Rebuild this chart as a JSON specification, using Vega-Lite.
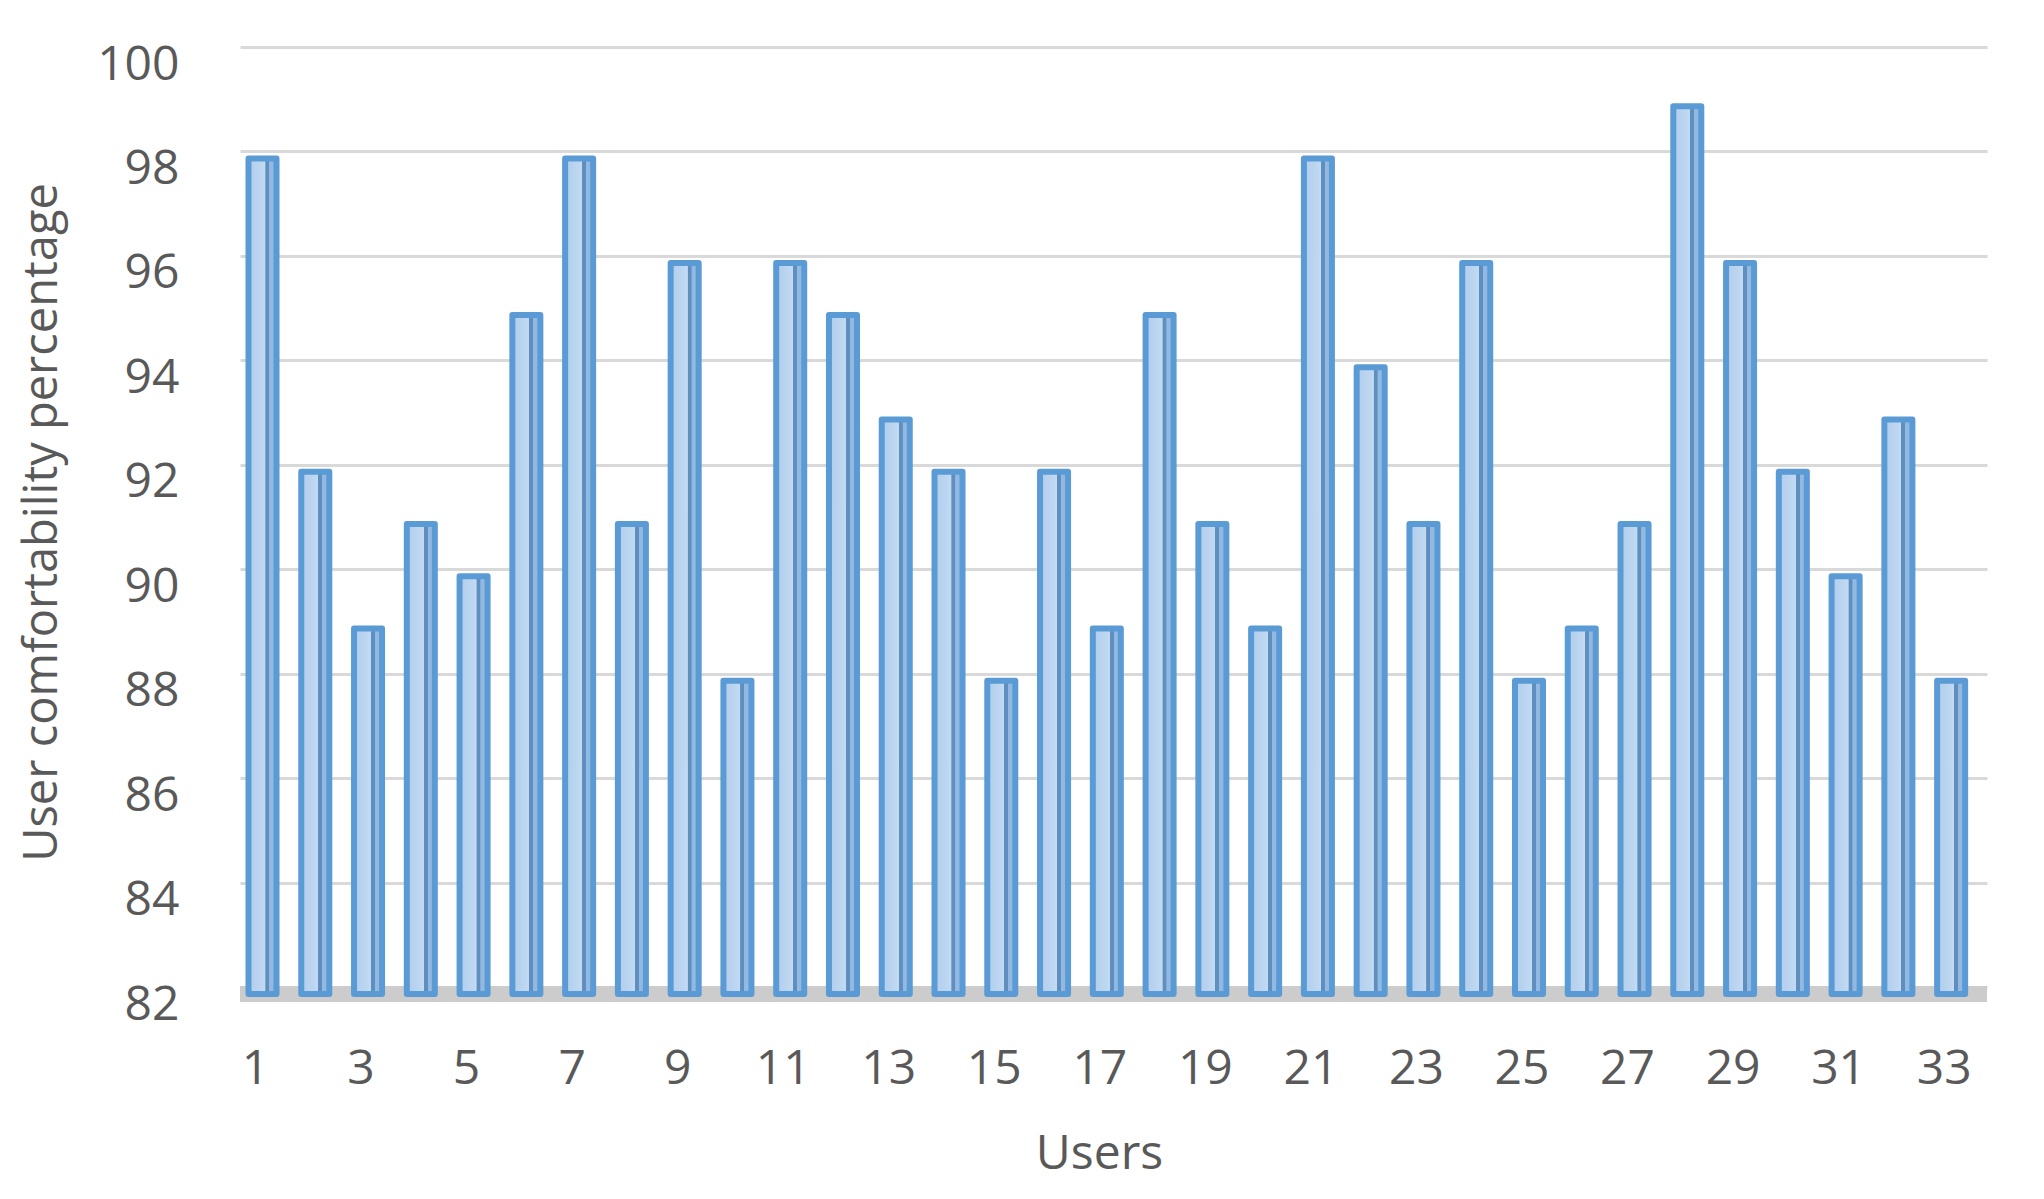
{
  "$schema": "https://vega.github.io/schema/vega-lite/v6.json",
  "width": 1747,
  "height": 940,
  "autosize": {"type": "none"},
  "padding": {"left": 240, "top": 47, "right": 57, "bottom": 212},
  "background": "white",
  "config": {"view": {"stroke": null}, "font": "Open Sans"},
  "data": {"values": [
    {"user": 1, "value": 98}, {"user": 2, "value": 92}, {"user": 3, "value": 89},
    {"user": 4, "value": 91}, {"user": 5, "value": 90}, {"user": 6, "value": 95},
    {"user": 7, "value": 98}, {"user": 8, "value": 91}, {"user": 9, "value": 96},
    {"user": 10, "value": 88}, {"user": 11, "value": 96}, {"user": 12, "value": 95},
    {"user": 13, "value": 93}, {"user": 14, "value": 92}, {"user": 15, "value": 88},
    {"user": 16, "value": 92}, {"user": 17, "value": 89}, {"user": 18, "value": 95},
    {"user": 19, "value": 91}, {"user": 20, "value": 89}, {"user": 21, "value": 98},
    {"user": 22, "value": 94}, {"user": 23, "value": 91}, {"user": 24, "value": 96},
    {"user": 25, "value": 88}, {"user": 26, "value": 89}, {"user": 27, "value": 91},
    {"user": 28, "value": 99}, {"user": 29, "value": 96}, {"user": 30, "value": 92},
    {"user": 31, "value": 90}, {"user": 32, "value": 93}, {"user": 33, "value": 88}
  ]},
  "layer": [
    {
      "mark": {"type": "rule", "color": "#cccccc", "strokeWidth": 16, "yOffset": 7},
      "encoding": {
        "y": {"datum": 82, "type": "quantitative"}
      }
    },
    {
      "mark": {
        "type": "bar",
        "yOffset": 7,
        "y2Offset": 7,
        "stroke": "#5b9bd5",
        "strokeWidth": 6,
        "strokeJoin": "round",
        "fill": {
          "gradient": "linear", "x1": 0, "x2": 1, "y1": 0, "y2": 0,
          "stops": [
            {"offset": 0, "color": "#b0cdec"},
            {"offset": 0.6, "color": "#c2daf2"},
            {"offset": 0.61, "color": "#5f8fbf"},
            {"offset": 0.74, "color": "#5f8fbf"},
            {"offset": 0.75, "color": "#93b9e2"},
            {"offset": 1, "color": "#93b9e2"}
          ]
        }
      },
      "encoding": {
        "x": {
          "field": "user",
          "type": "ordinal",
          "scale": {"paddingInner": 0.469, "paddingOuter": 0.2875, "align": 0.28},
          "axis": {
            "values": [1, 3, 5, 7, 9, 11, 13, 15, 17, 19, 21, 23, 25, 27, 29, 31, 33],
            "labelAngle": 0,
            "labelFontSize": 48,
            "labelColor": "#595959",
            "labelBaseline": "middle",
            "labelPadding": 82,
            "labelOffset": -7,
            "ticks": false,
            "tickSize": 0,
            "domain": false,
            "grid": false,
            "title": "Users",
            "titleFontSize": 48,
            "titleFontWeight": "normal",
            "titleColor": "#595959",
            "titleX": 859,
            "titleY": 167,
            "titleBaseline": "middle"
          }
        },
        "y": {
          "field": "value",
          "type": "quantitative",
          "scale": {"domain": [82, 100], "zero": false, "nice": false},
          "axis": {
            "values": [82, 84, 86, 88, 90, 92, 94, 96, 98, 100],
            "labelFontSize": 48,
            "labelColor": "#595959",
            "labelBaseline": "middle",
            "labelOffset": 18,
            "labelPadding": 61,
            "ticks": false,
            "tickSize": 0,
            "domain": false,
            "grid": true,
            "gridColor": "#d9d9d9",
            "gridWidth": 3,
            "title": "User comfortability percentage",
            "titleFontSize": 47,
            "titleFontWeight": "normal",
            "titleColor": "#595959",
            "titleX": -198,
            "titleY": 475,
            "titleAlign": "center",
            "titleBaseline": "middle",
            "titleAngle": -90
          }
        },
        "y2": {"datum": 82}
      }
    }
  ]
}
